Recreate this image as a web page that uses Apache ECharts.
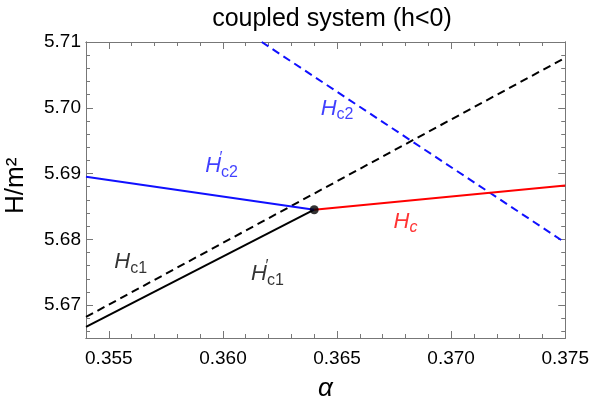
<!DOCTYPE html>
<html>
<head>
<meta charset="utf-8">
<script src="https://cdn.jsdelivr.net/npm/echarts@6/dist/echarts.min.js"></script>
<style>
  html, body { margin: 0; padding: 0; background: #fff; }
  #chart { width: 592px; height: 415px; }
</style>
</head>
<body>
<div id="chart"></div>
<script>
// 数据
const alphaLeft = [0.354, 0.364]
const hc1PrimeVals = [5.6667, 5.6845]
const hc2PrimeVals = [5.6895, 5.6845]
const alphaRight = [0.364, 0.375]
const hcVals = [5.6845, 5.6882]
const alphaHc1 = [0.354, 0.375]
const hc1Vals = [5.6682, 5.7076]
const alphaHc2 = [0.3617, 0.375]
const hc2Vals = [5.71, 5.6795]
const junction = [0.364, 5.6845]

const xTicks = [0.355, 0.36, 0.365, 0.37, 0.375]
const xMinor = [0.354, 0.356, 0.357, 0.358, 0.359, 0.361, 0.362, 0.363, 0.364, 0.366, 0.367, 0.368, 0.369, 0.371, 0.372, 0.373, 0.374]
const yTicks = [5.67, 5.68, 5.69, 5.70, 5.71]
const yMinor = [5.666, 5.668, 5.672, 5.674, 5.676, 5.678, 5.682, 5.684, 5.686, 5.688, 5.692, 5.694, 5.696, 5.698, 5.702, 5.704, 5.706, 5.708]

// 曲线标注 (下标, 是否带撇, 颜色, 位置)
const curveLabels = [
  { sub: 'c2', prime: true, color: '#1010ff', at: [0.35994, 5.6911] },
  { sub: 'c2', prime: false, color: '#1010ff', at: [0.3650, 5.6998] },
  { sub: 'c', prime: false, color: '#ff0000', at: [0.3680, 5.6827], italicSub: true },
  { sub: 'c1', prime: false, color: '#000', at: [0.35596, 5.6765] },
  { sub: 'c1', prime: true, color: '#000', at: [0.36195, 5.6747] },
]

const XMIN = 0.354, XMAX = 0.375, YMIN = 5.665, YMAX = 5.71
const FONT = 'Liberation Sans, Arial, sans-serif'
const frameColor = '#777'

function pairs(xs, ys) {
  return xs.map((x, i) => [x, ys[i]])
}

function xAxisDef(pos, vals, len, labels) {
  return {
    type: 'value', position: pos, min: XMIN, max: XMAX,
    axisLine: { show: true, lineStyle: { color: frameColor, width: 1 } },
    splitLine: { show: false },
    axisTick: { show: true, inside: true, length: len, customValues: vals, lineStyle: { color: frameColor } },
    axisLabel: labels ? {
      show: true, customValues: xTicks, color: '#000', fontSize: 19, fontFamily: FONT, margin: 11,
      formatter: v => v.toFixed(3)
    } : { show: false },
  }
}

function yAxisDef(pos, vals, len, labels) {
  return {
    type: 'value', position: pos, min: YMIN, max: YMAX,
    axisLine: { show: true, lineStyle: { color: frameColor, width: 1 } },
    splitLine: { show: false },
    axisTick: { show: true, inside: true, length: len, customValues: vals, lineStyle: { color: frameColor } },
    axisLabel: labels ? {
      show: true, customValues: yTicks, color: '#000', fontSize: 19, fontFamily: FONT, margin: 5,
      formatter: v => v.toFixed(2)
    } : { show: false },
  }
}

const labelRich = {
  h: { fontStyle: 'italic', fontSize: 22, fontFamily: FONT },
  p: { fontSize: 16, fontFamily: FONT, width: 0, padding: [0, 0, 16, 0] },
  s: { fontSize: 16, fontFamily: FONT, padding: [12, 0, 0, 0] },
  si: { fontSize: 16, fontStyle: 'italic', fontFamily: FONT, padding: [12, 0, 0, 0] },
}

const labelSeries = curveLabels.map(l => ({
  type: 'scatter',
  data: [l.at],
  symbolSize: 0,
  silent: true,
  z: 5,
  label: {
    show: true,
    position: 'inside',
    color: l.color,
    rich: Object.fromEntries(Object.entries(labelRich).map(([k, v]) => [k, Object.assign({ color: l.color }, v)])),
    formatter: () => '{h|H}' + (l.prime ? '{p|\u2032}' : '') + (l.italicSub ? '{si|' + l.sub + '}' : '{s|' + l.sub + '}'),
  },
}))

const option = {
  animation: false,
  backgroundColor: '#fff',
  title: {
    text: 'coupled system (h<0)',
    left: 327, top: 2, textAlign: 'center',
    textStyle: { color: '#000', fontSize: 25, fontWeight: 'normal', fontFamily: FONT },
  },
  grid: { left: 86, right: 25, top: 42, bottom: 77, containLabel: false },
  xAxis: [
    xAxisDef('bottom', xTicks, 7, true),
    xAxisDef('bottom', xMinor, 4, false),
    xAxisDef('top', xTicks, 7, false),
    xAxisDef('top', xMinor, 4, false),
  ],
  yAxis: [
    yAxisDef('left', yTicks, 7, true),
    yAxisDef('left', yMinor, 4, false),
    yAxisDef('right', yTicks, 7, false),
    yAxisDef('right', yMinor, 4, false),
  ],
  graphic: [
    {
      type: 'text', rotation: Math.PI / 2,
      style: { text: 'H/m\u00b2', fontSize: 26, fontFamily: FONT, fill: '#000' },
      x: 3, y: 214,
    },
    {
      type: 'text', left: 318, top: 376,
      style: { text: '\u03b1', fontSize: 26, fontStyle: 'italic', fontFamily: FONT, fill: '#000' },
    },
  ],
  series: [
    {
      name: 'Hc1', type: 'line', data: pairs(alphaHc1, hc1Vals), showSymbol: false, clip: true,
      lineStyle: { color: '#000', width: 2, type: [8, 5] },
    },
    {
      name: 'Hc2', type: 'line', data: pairs(alphaHc2, hc2Vals), showSymbol: false, clip: true,
      lineStyle: { color: '#1010ff', width: 2, type: [8, 5] },
    },
    {
      name: "H'c1", type: 'line', data: pairs(alphaLeft, hc1PrimeVals), showSymbol: false,
      lineStyle: { color: '#000', width: 2 },
    },
    {
      name: "H'c2", type: 'line', data: pairs(alphaLeft, hc2PrimeVals), showSymbol: false,
      lineStyle: { color: '#1010ff', width: 2 },
    },
    {
      name: 'Hc', type: 'line', data: pairs(alphaRight, hcVals), showSymbol: false,
      lineStyle: { color: '#ff0000', width: 2 },
    },
    {
      name: 'junction', type: 'scatter', data: [junction], symbolSize: 9, z: 6,
      itemStyle: { color: '#000' },
    },
    ...labelSeries,
  ],
}

const chart = echarts.init(document.getElementById('chart'), null, { renderer: 'canvas' })
chart.setOption(option)
</script>
</body>
</html>
